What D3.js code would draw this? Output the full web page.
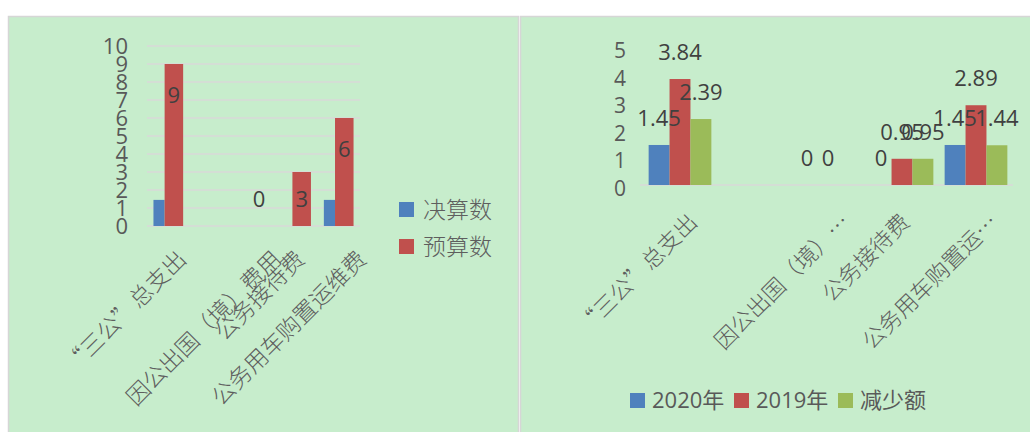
<!DOCTYPE html>
<html>
<head>
<meta charset="utf-8">
<script src="https://cdn.jsdelivr.net/npm/d3@7"></script>
<style>
  html, body { margin: 0; padding: 0; background: #ffffff; }
  svg { display: block; }
</style>
</head>
<body>
<svg id="chart" width="1030" height="432"></svg>
<script>
// ---------- data ----------
const leftCategories = ["“三公”总支出", "", "因公出国（境）费用", "公务接待费", "公务用车购置运维费"];
const leftSeries = ["决算数", "预算数"];
const leftFinal = [1.45, null, null, null, 1.45];
const leftBudget = [9, null, 0, 3, 6];
const leftTicks = [0, 1, 2, 3, 4, 5, 6, 7, 8, 9, 10];

const rightCategories = ["“三公”总支出", "", "因公出国（境）费用", "公务接待费", "公务用车购置运维费"];
const rightTickLabels = ["“三公”总支出", "", "因公出国（境）…", "公务接待费", "公务用车购置运…"];
const rightSeries = ["2020年", "2019年", "减少额"];
const right2020 = [1.45, null, 0, 0, 1.45];
const right2019 = [3.84, null, 0, 0.95, 2.89];
const rightDecrease = [2.39, null, null, 0.95, 1.44];
const rightTicks = [0, 1, 2, 3, 4, 5];

// ---------- styles ----------
const BG = "#c7edcc";
const BORDER = "#d6d6d6";
const COLORS = ["#4f81bd", "#c0504d", "#9bbb59"];
const NUM_FONT = "'Open Sans', 'Noto Sans', sans-serif";
const CJK_FONT = "'Noto Sans CJK SC', sans-serif";
const MIX_FONT = "'Open Sans', 'Noto Sans CJK SC', sans-serif";
const TXT = "#595959";

const svg = d3.select("#chart");

// panels
svg.append("rect").attr("x", 8.5).attr("y", 16.5).attr("width", 510).attr("height", 430)
  .attr("fill", BG).attr("stroke", BORDER).attr("stroke-width", 1.5);
svg.append("rect").attr("x", 520.5).attr("y", 16.5).attr("width", 520).attr("height", 430)
  .attr("fill", BG).attr("stroke", BORDER).attr("stroke-width", 1.5);

function placeRotatedLabels(g, x, idxs, labels, baseY, size) {
  idxs.forEach(i => {
    if (!labels[i]) return;
    const cx = x(i) + x.bandwidth() / 2;
    const t = g.append("text")
      .attr("font-family", CJK_FONT)
      .attr("font-weight", 300)
      .attr("font-size", size)
      .attr("fill", "#5e5e5e")
      .attr("text-anchor", "end")
      .attr("dy", "0.35em")
      .text(labels[i]);
    const len = t.node().getComputedTextLength();
    const ax = cx - 20 + 0.21 * len;
    t.attr("transform", `translate(${ax},${baseY}) rotate(-45)`);
  });
}

// ================= LEFT CHART =================
(function () {
  const g = svg.append("g");
  const idx = leftCategories.map((d, i) => i);
  const x = d3.scaleBand().domain(idx).range([147, 360]).padding(0);
  const y = d3.scaleLinear().domain([0, 10]).range([226, 46]);

  // gridlines
  g.append("g").selectAll("line").data(leftTicks).join("line")
    .attr("x1", 147).attr("x2", 360)
    .attr("y1", d => y(d)).attr("y2", d => y(d))
    .attr("stroke", "#d9d9d9").attr("stroke-width", 1.3);

  // y axis labels
  const yAxis = d3.axisLeft(y).tickValues(leftTicks).tickFormat(d3.format("d")).tickSize(0).tickPadding(0);
  const ya = g.append("g").attr("transform", "translate(128,0)").call(yAxis);
  ya.select(".domain").remove();
  ya.selectAll("text").attr("font-family", NUM_FONT).attr("font-size", 22)
    .attr("fill", TXT).attr("dy", "0.36em");

  const bw = x.bandwidth();
  const blueW = bw * 0.262, redW = bw * 0.435;
  const start = i => x(i) + bw / 2 - (blueW + redW) / 2;

  // blue bars (决算数)
  g.append("g").selectAll("rect").data(idx.filter(i => leftFinal[i] != null)).join("rect")
    .attr("x", i => start(i)).attr("width", blueW)
    .attr("y", i => y(leftFinal[i])).attr("height", i => y(0) - y(leftFinal[i]))
    .attr("fill", COLORS[0]);
  // red bars (预算数)
  g.append("g").selectAll("rect").data(idx.filter(i => leftBudget[i] != null)).join("rect")
    .attr("x", i => start(i) + blueW).attr("width", redW)
    .attr("y", i => y(leftBudget[i])).attr("height", i => y(0) - y(leftBudget[i]))
    .attr("fill", COLORS[1]);
  // labels for red bars (inside end)
  g.append("g").selectAll("text").data(idx.filter(i => leftBudget[i] != null)).join("text")
    .attr("x", i => start(i) + blueW + redW / 2)
    .attr("y", i => Math.min(y(leftBudget[i]) + 31, y(0) - 27))
    .attr("dy", "0.36em")
    .attr("text-anchor", "middle")
    .attr("font-family", NUM_FONT).attr("font-size", 22).attr("fill", "#404040")
    .text(i => leftBudget[i]);

  // x labels
  placeRotatedLabels(g, x, idx, leftCategories, 255, 23);

  // legend
  const lg = g.append("g");
  leftSeries.forEach((s, k) => {
    const yy = 202 + k * 37;
    lg.append("rect").attr("x", 399).attr("y", yy).attr("width", 15).attr("height", 15)
      .attr("fill", COLORS[k]);
    lg.append("text").attr("x", 423).attr("y", yy + 7.5).attr("dy", "0.36em")
      .attr("font-family", CJK_FONT).attr("font-weight", 300).attr("font-size", 23).attr("fill", "#5e5e5e")
      .text(s);
  });
})();

// ================= RIGHT CHART =================
(function () {
  const g = svg.append("g");
  const idx = rightCategories.map((d, i) => i);
  const x = d3.scaleBand().domain(idx).range([643, 1013]).padding(0);
  const y = d3.scaleLinear().domain([0, 5]).range([185, 47]);
  const sub = d3.scaleBand().domain([0, 1, 2]).range([0, x.bandwidth()]).paddingOuter(0.27).paddingInner(0);

  // baseline
  g.append("line").attr("x1", 640).attr("x2", 1013).attr("y1", y(0)).attr("y2", y(0))
    .attr("stroke", "#d9d9d9").attr("stroke-width", 1.5);

  // y axis labels
  const yAxis = d3.axisLeft(y).tickValues(rightTicks).tickFormat(d3.format("d")).tickSize(0).tickPadding(0);
  const ya = g.append("g").attr("transform", "translate(626,0)").call(yAxis);
  ya.select(".domain").remove();
  ya.selectAll("text").attr("font-family", NUM_FONT).attr("font-size", 21)
    .attr("fill", TXT).attr("dy", "0.5em");

  const seriesData = [right2020, right2019, rightDecrease];
  seriesData.forEach((vals, k) => {
    const items = idx.filter(i => vals[i] != null);
    g.append("g").selectAll("rect").data(items).join("rect")
      .attr("x", i => x(i) + sub(k)).attr("width", sub.bandwidth())
      .attr("y", i => y(vals[i])).attr("height", i => y(0) - y(vals[i]))
      .attr("fill", COLORS[k]);
  });
  seriesData.forEach((vals, k) => {
    const items = idx.filter(i => vals[i] != null);
    g.append("g").selectAll("text").data(items).join("text")
      .attr("x", i => x(i) + sub(k) + sub.bandwidth() / 2)
      .attr("y", i => y(vals[i]) - 27)
      .attr("dy", "0.36em")
      .attr("text-anchor", "middle")
      .attr("font-family", NUM_FONT).attr("font-size", 22).attr("fill", "#404040")
      .text(i => vals[i]);
  });

  // x labels
  placeRotatedLabels(g, x, idx, rightTickLabels, 218, 22.5);

  // legend
  const lx = [630, 734, 838];
  rightSeries.forEach((s, k) => {
    g.append("rect").attr("x", lx[k]).attr("y", 393).attr("width", 15).attr("height", 15)
      .attr("fill", COLORS[k]);
    g.append("text").attr("x", lx[k] + 22).attr("y", 400.5).attr("dy", "0.36em")
      .attr("font-family", MIX_FONT).attr("font-size", 22).attr("fill", TXT)
      .text(s);
  });
})();
</script>
</body>
</html>
